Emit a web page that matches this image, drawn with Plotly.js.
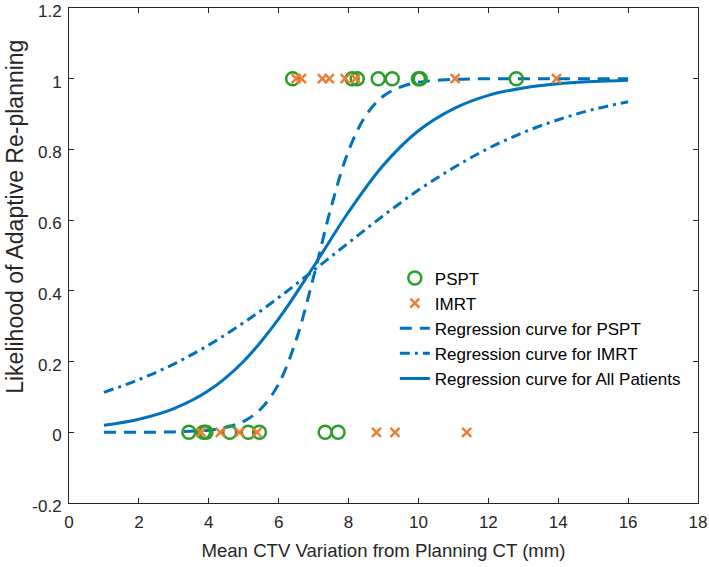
<!DOCTYPE html>
<html>
<head>
<meta charset="utf-8">
<script src="https://cdn.plot.ly/plotly-3.0.1.min.js"></script>
<style>html,body{margin:0;padding:0;background:#fff;}#chart{width:709px;height:567px;}</style>
</head>
<body>
<div id="chart"></div>
<script>
// Observed patients (outcome 1 = re-planned, 0 = not)
const psptX = [6.4, 8.1, 8.25, 8.85, 9.25, 10.0, 10.05, 12.8, 3.43, 3.85, 3.92, 4.6, 5.13, 5.45, 7.33, 7.7];
const psptY = [1, 1, 1, 1, 1, 1, 1, 1, 0, 0, 0, 0, 0, 0, 0, 0];
const imrtX = [6.5, 6.65, 7.25, 7.45, 7.9, 8.2, 11.05, 13.95, 3.78, 4.33, 4.88, 5.38, 8.8, 9.33, 11.38];
const imrtY = [1, 1, 1, 1, 1, 1, 1, 1, 0, 0, 0, 0, 0, 0, 0];

// Regression curves
const curveAllX = [1, 2, 3, 4, 5, 6, 7, 8, 9, 10, 11, 12, 13, 14, 15, 16];
const curveAllY = [0.020, 0.037, 0.067, 0.118, 0.201, 0.321, 0.469, 0.623, 0.756, 0.853, 0.915, 0.953, 0.974, 0.986, 0.992, 0.996];
const curveImrtX = [1, 2, 3, 4, 5, 6, 7, 8, 9, 10, 11, 12, 13, 14, 15, 16];
const curveImrtY = [0.113, 0.149, 0.193, 0.247, 0.310, 0.381, 0.458, 0.536, 0.613, 0.685, 0.748, 0.803, 0.848, 0.884, 0.913, 0.935];
const curvePsptX = [1, 2, 3, 4, 4.5, 5, 5.5, 6, 6.5, 7, 7.5, 8, 8.5, 9, 9.5, 10, 11, 12, 13, 14, 15, 16];
const curvePsptY = [0.000, 0.000, 0.001, 0.006, 0.014, 0.031, 0.067, 0.137, 0.261, 0.440, 0.636, 0.796, 0.897, 0.951, 0.977, 0.990, 0.998, 1.0, 1.0, 1.0, 1.0, 1.0];

const xTickVals = [0, 2, 4, 6, 8, 10, 12, 14, 16, 18];
const xTickText = ['0', '2', '4', '6', '8', '10', '12', '14', '16', '18'];
const yTickVals = [-0.2, 0, 0.2, 0.4, 0.6, 0.8, 1, 1.2];
const yTickText = ['-0.2', '0', '0.2', '0.4', '0.6', '0.8', '1', '1.2'];

const xTitle = 'Mean CTV Variation from Planning CT (mm)';
const yTitle = 'Likelihood of Adaptive Re-planning';

const blue = '#0072BD';
const green = '#2a9d2a';
const orange = '#ED7D31';
const font = 'Liberation Sans, Arial, sans-serif';

const traces = [
  {x: curvePsptX, y: curvePsptY, mode: 'lines', name: 'Regression curve for PSPT',
   line: {color: blue, width: 3, dash: '12px,8px', shape: 'spline'}, legendrank: 3},
  {x: curveImrtX, y: curveImrtY, mode: 'lines', name: 'Regression curve for IMRT',
   line: {color: blue, width: 3, dash: '10px,5px,3px,5px', shape: 'spline'}, legendrank: 4},
  {x: curveAllX, y: curveAllY, mode: 'lines', name: 'Regression curve for All Patients',
   line: {color: blue, width: 3, shape: 'spline'}, legendrank: 5},
  {x: psptX, y: psptY, mode: 'markers', name: 'PSPT',
   marker: {symbol: 'circle-open', size: 13, color: green, line: {width: 2.5, color: green}}, legendrank: 1},
  {x: imrtX, y: imrtY, mode: 'markers', name: 'IMRT',
   marker: {symbol: 'x-thin-open', size: 9, color: orange, line: {width: 2.5, color: orange}}, legendrank: 2}
];

const axisCommon = {
  showgrid: false, zeroline: false, showline: true, mirror: 'ticks',
  linecolor: '#262626', linewidth: 1, ticks: 'inside', ticklen: 5, tickcolor: '#262626',
  ticklabeloverflow: 'allow',
  tickfont: {family: font, size: 17, color: '#262626'}
};

const layout = {
  width: 709, height: 567,
  margin: {l: 69, r: 11, t: 8, b: 64},
  paper_bgcolor: '#fff', plot_bgcolor: '#fff',
  showlegend: true,
  xaxis: Object.assign({}, axisCommon, {
    range: [0, 18.0001], tickvals: xTickVals, ticktext: xTickText, ticklabelstandoff: 4,
    title: {text: xTitle, standoff: 12, font: {family: font, size: 18.6, color: '#262626'}}
  }),
  yaxis: Object.assign({}, axisCommon, {
    range: [-0.2001, 1.2001], tickvals: yTickVals, ticktext: yTickText,
    ticklabelstandoff: 3, ticklabelshift: 3
  }),
  annotations: [{
    text: yTitle, textangle: -90, showarrow: false,
    xref: 'paper', yref: 'paper', x: -0.086, y: 0.578, xanchor: 'center', yanchor: 'middle',
    font: {family: font, size: 23, color: '#262626'}
  }],
  legend: {x: 0.518, y: 0.49, xanchor: 'left', yanchor: 'top', bgcolor: 'rgba(0,0,0,0)',
           font: {family: font, size: 17, color: '#000'},
           tracegroupgap: 0, itemwidth: 30}
};

Plotly.newPlot('chart', traces, layout, {displayModeBar: false, staticPlot: true});
</script>
</body>
</html>
